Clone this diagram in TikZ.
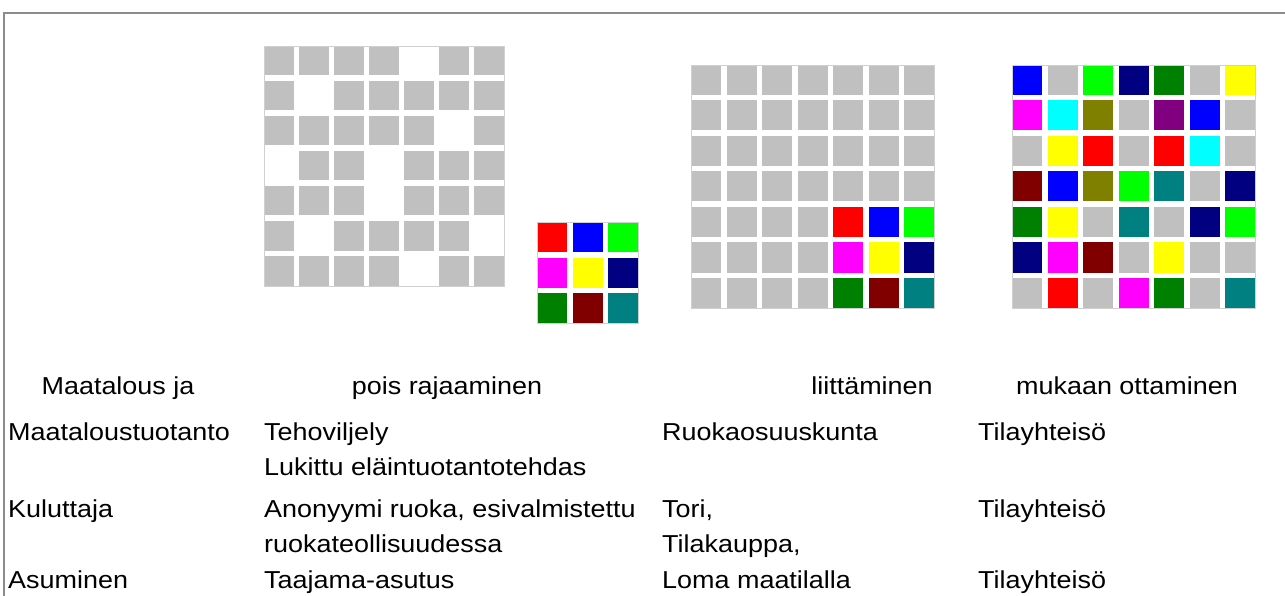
\documentclass[tikz,border=0pt]{standalone}
\usepackage{fontspec}
\setmainfont[FakeStretch=1.1]{Liberation Sans}
\usepackage{xcolor}
\usepackage{tikz}

\definecolor{cg}{HTML}{C0C0C0}
\definecolor{cred}{HTML}{FF0000}
\definecolor{cblue}{HTML}{0000FF}
\definecolor{clime}{HTML}{00FF00}
\definecolor{cnavy}{HTML}{000080}
\definecolor{cgreen}{HTML}{008000}
\definecolor{cmaroon}{HTML}{800000}
\definecolor{cteal}{HTML}{008080}
\definecolor{cmagenta}{HTML}{FF00FF}
\definecolor{cyellow}{HTML}{FFFF00}
\definecolor{ccyan}{HTML}{00FFFF}
\definecolor{colive}{HTML}{808000}
\definecolor{cpurple}{HTML}{800080}
\definecolor{framegray}{HTML}{8C8C8C}
\definecolor{boxgray}{HTML}{D0D0D0}

\begin{document}
\begin{tikzpicture}[
    x=1pt, y=-1pt,
    font=\fontsize{24.5}{28}\selectfont,
    hdr/.style={anchor=base, inner sep=0pt},
    lbl/.style={anchor=base west, inner sep=0pt},
    gridbox/.style={draw=boxgray, line width=0.8pt}
]
\useasboundingbox (0,0) rectangle (1285,596);

% 1. Frame
\draw[framegray, line width=1.2pt] (4,596) -- (4,13) -- (1285,13);

% 2. Grids
% excluded pattern
\foreach \cells [count=\i from 0] in {
    {cg,cg,cg,cg,white,cg,cg},
    {cg,white,cg,cg,cg,cg,cg},
    {cg,cg,cg,cg,cg,white,cg},
    {white,cg,cg,white,cg,cg,cg},
    {cg,cg,cg,white,cg,cg,cg},
    {cg,white,cg,cg,cg,cg,white},
    {cg,cg,cg,cg,white,cg,cg}}
  \foreach \c [count=\j from 0] in \cells
    \fill[\c] ({264+\j*35}, {46+\i*35}) rectangle ++(29.5,29.5);
\draw[gridbox] (264,46) rectangle (504,286);

% small coloured block
\foreach \cells [count=\i from 0] in {
    {cred,cblue,clime},
    {cmagenta,cyellow,cnavy},
    {cgreen,cmaroon,cteal}}
  \foreach \c [count=\j from 0] in \cells
    \fill[\c] ({537+\j*35.5}, {222+\i*35.5}) rectangle ++(30,30);
\draw[gridbox] (537,222) rectangle (638,323);

% joined block
\foreach \cells [count=\i from 0] in {
    {cg,cg,cg,cg,cg,cg,cg},
    {cg,cg,cg,cg,cg,cg,cg},
    {cg,cg,cg,cg,cg,cg,cg},
    {cg,cg,cg,cg,cg,cg,cg},
    {cg,cg,cg,cg,cred,cblue,clime},
    {cg,cg,cg,cg,cmagenta,cyellow,cnavy},
    {cg,cg,cg,cg,cgreen,cmaroon,cteal}}
  \foreach \c [count=\j from 0] in \cells
    \fill[\c] ({691+\j*35.5}, {65+\i*35.5}) rectangle ++(30,30);
\draw[gridbox] (691,65) rectangle (934,308);

% mixed block
\foreach \cells [count=\i from 0] in {
    {cblue,cg,clime,cnavy,cgreen,cg,cyellow},
    {cmagenta,ccyan,colive,cg,cpurple,cblue,cg},
    {cg,cyellow,cred,cg,cred,ccyan,cg},
    {cmaroon,cblue,colive,clime,cteal,cg,cnavy},
    {cgreen,cyellow,cg,cteal,cg,cnavy,clime},
    {cnavy,cmagenta,cmaroon,cg,cyellow,cg,cg},
    {cg,cred,cg,cmagenta,cgreen,cg,cteal}}
  \foreach \c [count=\j from 0] in \cells
    \fill[\c] ({1012+\j*35.5}, {65+\i*35.5}) rectangle ++(30,30);
\draw[gridbox] (1012,65) rectangle (1255,308);

% 3. Headers
\node[hdr] (h1) at (118,394) {Maatalous ja};
\node[hdr] (h2) at (447,394) {pois rajaaminen};
\node[hdr] (h3) at (872,394) {liittäminen};
\node[hdr] (h4) at (1127,394) {mukaan ottaminen};

% 4. Rows
\node[lbl] (r1a) at (8,440.5) {Maataloustuotanto};
\node[lbl] (r1b) at (264,440.5) {Tehoviljely};
\node[lbl] (r1bb) at (264,475.5) {Lukittu eläintuotantotehdas};
\node[lbl] (r1c) at (662,440.5) {Ruokaosuuskunta};
\node[lbl] (r1d) at (978,440.5) {Tilayhteisö};

\node[lbl] (r2a) at (8,517.5) {Kuluttaja};
\node[lbl] (r2b) at (264,517.5) {Anonyymi ruoka, esivalmistettu};
\node[lbl] (r2bb) at (264,552.5) {ruokateollisuudessa};
\node[lbl] (r2c) at (662,517.5) {Tori,};
\node[lbl] (r2cc) at (662,552.5) {Tilakauppa,};
\node[lbl] (r2d) at (978,517.5) {Tilayhteisö};

\node[lbl] (r3a) at (8,588.5) {Asuminen};
\node[lbl] (r3b) at (264,588.5) {Taajama-asutus};
\node[lbl] (r3c) at (662,588.5) {Loma maatilalla};
\node[lbl] (r3d) at (978,588.5) {Tilayhteisö};

\end{tikzpicture}
\end{document}
